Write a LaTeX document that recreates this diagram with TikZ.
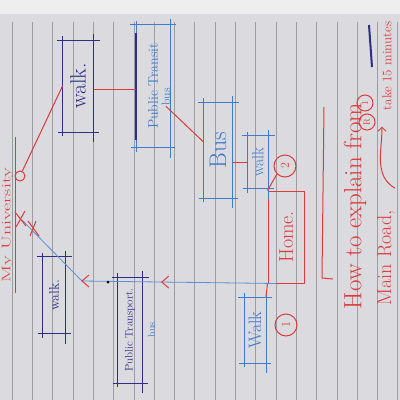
\documentclass[tikz,border=0pt]{standalone}
\usepackage{graphicx}
\usetikzlibrary{positioning,arrows.meta,calc}
\definecolor{paperGray}{HTML}{DADADF}
\definecolor{paperEdge}{HTML}{EEEEEF}
\definecolor{ruleGray}{HTML}{9C9CA2}
\definecolor{navyInk}{HTML}{2E2E86}
\definecolor{blueInk}{HTML}{3F7BCB}
\definecolor{redInk}{HTML}{DD3B3B}
\newcommand{\inkSize}[1]{\fontsize{#1}{#1}\selectfont}

\begin{document}
\begin{tikzpicture}[x=1pt, y=-1pt, >={Straight Barb[length=4pt]}, line width=1pt,
          box/.style={inner sep=0pt},
          stepmark/.style={circle, draw=redInk, text=redInk, inner sep=0pt},
          note/.style={text=redInk, inner sep=0pt}]
        \useasboundingbox (0,0) rectangle (400,400);
        \clip (0,0) rectangle (400,400);
        % the notebook page
        \fill[paperGray] (0,0) rectangle (400,400);
        \fill[paperEdge] (0,0) rectangle (400,14);
        \foreach \i in {0,...,19}
          \draw[ruleGray, line width=0.6pt] ({12+20.3*\i},22) -- ({12+20.3*\i},400);
        % boxes
        \node[box, minimum width=30, minimum height=91, text=navyInk, font=\inkSize{22}] (walkTop) at (78,86) {\rotatebox{90}{walk.}};
        \node[box, minimum width=33, minimum height=122, text=blueInk, font=\inkSize{14}] (ptTop) at (153,86) {\rotatebox{90}{Public Transit}};
        \node[box, text=blueInk, font=\inkSize{12}] (ptTopBus) at (166,97) {\rotatebox{90}{bus}};
        \node[box, minimum width=28, minimum height=95, text=blueInk, font=\inkSize{24}] (bus) at (218,150) {\rotatebox{90}{Bus}};
        \node[box, minimum width=20, minimum height=52, text=blueInk, font=\inkSize{16}] (walkMid) at (258,162) {\rotatebox{90}{walk}};
        \node[box, draw=redInk, minimum width=36, minimum height=92, text=redInk, font=\inkSize{20}] (home) at (286,237) {\rotatebox{90}{Home.}};
        \node[box, minimum width=21, minimum height=65, text=blueInk, font=\inkSize{18}] (walkBot) at (255,330) {\rotatebox{90}{Walk}};
        \node[box, minimum width=22, minimum height=76, text=navyInk, font=\inkSize{14}] (walkLeft) at (54,295) {\rotatebox{90}{walk.}};
        \node[box, minimum width=24, minimum height=105, text=navyInk, font=\inkSize{11}] (ptBot) at (130,330) {\rotatebox{90}{Public Transport.}};
        \node[box, right=5pt of ptBot, text=blueInk, font=\inkSize{10}] (ptBotBus) {\rotatebox{90}{bus}};
        \foreach \b/\c in {walkTop/navyInk, ptTop/blueInk, bus/blueInk, walkMid/blueInk, walkBot/blueInk, walkLeft/navyInk, ptBot/navyInk} {
          \draw[\c, shorten <=-6pt, shorten >=-6pt] (\b.north west) -- (\b.north east);
          \draw[\c, shorten <=-5pt, shorten >=-5pt] (\b.south west) -- (\b.south east);
          \draw[\c, shorten <=-6pt, shorten >=-10pt] (\b.north east) -- (\b.south east);
          \draw[\c, shorten <=-4pt, shorten >=-4pt] (\b.north west) -- (\b.south west);
        }
        \draw[navyInk, line width=1.6pt] ($(ptTop.north west)+(0,8)$) -- ($(ptTop.south west)+(0,-8)$);
        % step marks
        \node[stepmark, minimum size=22, font=\inkSize{12}] (stepTwo) at (285,166) {\rotatebox{90}{2}};
        \node[stepmark, minimum size=22, font=\inkSize{12}] (stepOne) at (286,325) {\rotatebox{90}{1}};
        \node[stepmark, minimum size=10] (uniLoop) at (20,176) {};
        % links between the legs
        \draw[redInk] (walkTop.east |- 0,89) -- (ptTop.west |- 0,89);
        \draw[redInk] (ptTopBus.south) -- ($(bus.west)+(0,-8)$);
        \draw[redInk] (bus.east |- walkMid.west) -- (walkMid.west);
        \draw[redInk] (stepTwo.south west) -- (home.north west);
        \draw[redInk] (walkBot.north east) -- (home.south west);
        \draw[redInk] (uniLoop) -- (walkTop.west);
        % route back to the university
        \coordinate (uniX) at (22,220);
        \coordinate (bend) at (82,281);
        \draw[blueInk!85, line width=0.8pt] ($(home.south west)+(9,0)$) -- (bend) -- (uniX);
        \path (home.south west) -- (bend) coordinate[pos=0.57] (busArrow);
        \foreach \p in {bend, busArrow}
          \draw[redInk] ($(\p)+(7,-6)$) -- (\p) -- ($(\p)+(7,6)$);
        \fill (108,282) circle (1.5);
        \draw[redInk] (15,212) -- (26,226) (25,211) -- (16,227);
        \draw[redInk] (28,221) -- (39,236) (36,221) -- (30,236);
        \node[note, font=\inkSize{20}] (myUni) at (7.5,225) {\rotatebox{90}{\scalebox{1}[0.62]{My University}}};
        \draw[redInk] (15,137) -- (15,293);
        % notes on the right
        \draw[redInk] (324,107) -- (322,278) -- (333,279);
        \node[note, font=\inkSize{25}] (howTo) at (355,206) {\rotatebox{90}{How to explain from}};
        \node[stepmark, minimum size=16, font=\inkSize{9}] (noteOne) at (365,103) {\rotatebox{90}{1}};
        \node[stepmark, minimum size=16, font=\inkSize{9}] (noteR) at (367,122) {\rotatebox{90}{R}};
        \node[note, font=\inkSize{20}] (mainRoad) at (386,258) {\rotatebox{90}{Main Road,}};
        \node[note, font=\inkSize{13}] (takeTime) at (387,66) {\rotatebox{90}{take 15 minutes}};
        \draw[redInk, ->] ($(mainRoad.north)+(9,-22)$) to[out=150, in=-90] ($(takeTime.south)+(-5,16)$);
        \draw[navyInk, line width=2pt] (369,25) -- (372,67);
      \end{tikzpicture}
\end{document}
